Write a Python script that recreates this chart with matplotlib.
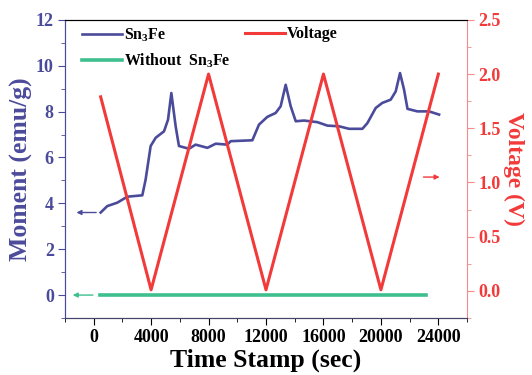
import numpy as np
import matplotlib
matplotlib.use("Agg")
import matplotlib.pyplot as plt
from matplotlib.ticker import MultipleLocator

plt.rcParams['font.family'] = ['Liberation Serif', 'DejaVu Serif']
plt.rcParams['font.weight'] = 'bold'
plt.rcParams['mathtext.fontset'] = 'custom'
plt.rcParams['mathtext.rm'] = 'Liberation Serif:bold'

# Sn3Fe moment (emu/g) vs time (sec)
momentTime = [490, 950, 1650, 2350, 3390, 3620, 3970, 4320, 4900, 5180, 5410, 5710,
              5940, 6640, 7100, 7920, 8500, 9310, 9540, 11050, 11510, 12090, 12670,
              13020, 13370, 13720, 14070, 14650, 15580, 16270, 17080, 17780, 18710,
              19060, 19640, 20100, 20680, 21030, 21330, 21610, 21850, 22540, 23350, 24050]
momentValue = [3.6, 3.88, 4.03, 4.29, 4.35, 5.04, 6.5, 6.86, 7.14, 7.65, 8.81, 7.36,
               6.5, 6.38, 6.56, 6.42, 6.6, 6.56, 6.71, 6.75, 7.43, 7.77, 7.94,
               8.23, 9.17, 8.23, 7.58, 7.61, 7.54, 7.39, 7.36, 7.25, 7.25,
               7.5, 8.16, 8.38, 8.52, 8.88, 9.68, 8.96, 8.12, 8.01, 8.01, 7.87]

# Without Sn3Fe
blankTime = [440, 23120]
blankValue = [0.0, 0.0]

# Voltage (V)
voltTime = [490, 4000, 8000, 12000, 16000, 20000, 24000]
voltValue = [1.79, 0.01, 2.0, 0.01, 2.0, 0.01, 2.0]

# axis-indicator arrows: (x_from, x_to, y)
blueArrow = (370, -1390, 3.6)
greenArrow = (140, -1650, 0.0)
redArrow = (22770, 24280, 1.05)

blue = '#4b4b9b'
red = '#f23a3a'
green = '#3dbf8e'

fig = plt.figure(figsize=(5.32, 3.75), dpi=100)
ax = fig.add_axes([0.122, 0.152, 0.756, 0.795])
ax2 = ax.twinx()

l1, = ax.plot(momentTime, momentValue, color=blue, lw=1.9, label='Sn$_3$Fe')
l2, = ax.plot(blankTime, blankValue, color=green, lw=2.6, label='Without  Sn$_3$Fe')
l3, = ax2.plot(voltTime, voltValue, color=red, lw=2.2, label='Voltage')

ax.annotate('', xy=(blueArrow[1], blueArrow[2]), xytext=(blueArrow[0], blueArrow[2]),
            arrowprops=dict(arrowstyle='-|>', color=blue, lw=1.0, mutation_scale=7))
ax.annotate('', xy=(greenArrow[1], greenArrow[2]), xytext=(greenArrow[0], greenArrow[2]),
            arrowprops=dict(arrowstyle='-|>', color=green, lw=1.0, mutation_scale=7))
ax2.annotate('', xy=(redArrow[1], redArrow[2]), xytext=(redArrow[0], redArrow[2]),
             arrowprops=dict(arrowstyle='-|>', color=red, lw=1.0, mutation_scale=7))

ax.set_xlim(-2000, 26000)
ax.set_ylim(-1, 12)
ax2.set_ylim(-0.25, 2.5)

ax.xaxis.set_minor_locator(MultipleLocator(2000))
ax.set_xticks([0, 4000, 8000, 12000, 16000, 20000, 24000])
ax.yaxis.set_minor_locator(MultipleLocator(1))
ax.set_yticks([0, 2, 4, 6, 8, 10, 12])
ax2.yaxis.set_minor_locator(MultipleLocator(0.25))
ax2.set_yticks([0.0, 0.5, 1.0, 1.5, 2.0, 2.5])
ax2.set_yticklabels(['0.0', '0.5', '1.0', '1.5', '2.0', '2.5'])

ax.tick_params(axis='x', which='both', direction='out', labelsize=13, colors='black', pad=3)
ax.tick_params(axis='x', which='major', length=5)
ax.tick_params(axis='x', which='minor', length=3)
ax.tick_params(axis='y', which='both', direction='out', labelsize=13, colors=blue, pad=3)
ax.tick_params(axis='y', which='major', length=5)
ax.tick_params(axis='y', which='minor', length=3)
ax2.tick_params(axis='y', which='both', direction='out', labelsize=13, colors=red, pad=3)
ax2.tick_params(axis='y', which='major', length=5)
ax2.tick_params(axis='y', which='minor', length=3)
ax2.tick_params(axis='y', which='both', color='#f58a8a')

ax.spines['left'].set_color(blue)
ax2.spines['left'].set_color(blue)
ax2.spines['right'].set_color('#f58a8a')
ax.spines['right'].set_visible(False)
ax.spines['bottom'].set_color('#444466')
ax2.spines['bottom'].set_color('#444466')

ax.set_xlabel('Time Stamp (sec)', fontsize=18.5, fontweight='bold', labelpad=2)
ax.set_ylabel('Moment (emu/g)', fontsize=18.5, fontweight='bold', color=blue, labelpad=2)
ax2.set_ylabel('Voltage (V)', fontsize=17, fontweight='bold', color=red, rotation=270, labelpad=17)

leg1 = ax.legend(handles=[l1, l2], loc='upper left', bbox_to_anchor=(0.02, 1.01),
                 frameon=False, fontsize=11.4, handlelength=2.5, handletextpad=0.15,
                 labelspacing=0.45, borderaxespad=0.2)
ax2.legend(handles=[l3], loc='upper left', bbox_to_anchor=(0.425, 1.01),
           frameon=False, fontsize=11.4, handlelength=2.5, handletextpad=0.15,
           borderaxespad=0.2)

fig.savefig('out.png', dpi=100)
